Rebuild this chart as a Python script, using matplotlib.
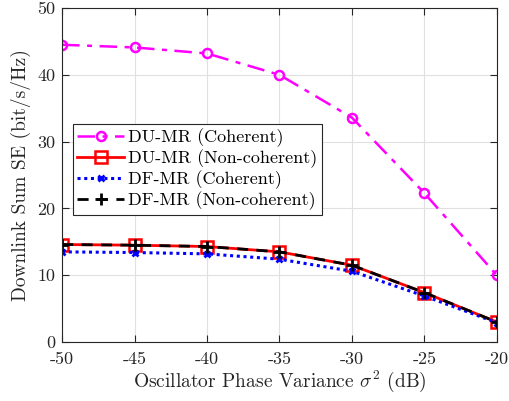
import matplotlib
matplotlib.use("Agg")
import matplotlib.pyplot as plt

plt.rcParams['font.family'] = 'cmr10'
plt.rcParams['mathtext.fontset'] = 'cm'
plt.rcParams['axes.unicode_minus'] = False
plt.rcParams['axes.formatter.use_mathtext'] = True

x = [-50, -45, -40, -35, -30, -25, -20]
du_coh = [44.5, 44.1, 43.2, 40.0, 33.6, 22.3, 10.0]
du_non = [14.6, 14.5, 14.3, 13.5, 11.5, 7.4, 3.0]
df_coh = [13.5, 13.4, 13.2, 12.4, 10.6, 6.9, 2.9]
df_non = [14.6, 14.5, 14.3, 13.5, 11.5, 7.4, 3.0]
xticks = [-50, -45, -40, -35, -30, -25, -20]
yticks = [0, 10, 20, 30, 40, 50]

fig = plt.figure(figsize=(5.09, 4.01), dpi=100)
ax = fig.add_axes([0.122, 0.147, 0.854, 0.833])

ax.plot(x, du_coh, color='#ff00ff', ls=(0, (7, 3, 2, 3)), lw=1.8, marker='o', ms=6.5, mfc='none', mew=1.8,
        label='DU-MR (Coherent)')
ax.plot(x, du_non, color='red', ls='-', lw=2, marker='s', ms=8.5, mfc='none', mew=1.8,
        label='DU-MR (Non-coherent)')
ax.plot(x, df_coh, color='blue', ls=(0, (1, 1.2)), lw=2.2, marker='x', ms=5, mew=2,
        label='DF-MR (Coherent)')
ax.plot(x, df_non, color='black', ls=(0, (4, 3)), lw=2, marker='+', ms=8, mew=2,
        label='DF-MR (Non-coherent)')

ax.set_xlim(-50, -20)
ax.set_ylim(0, 50)
ax.set_xticks(xticks)
ax.set_xticklabels([str(v) for v in xticks])
ax.set_yticks(yticks)
ax.set_yticklabels([str(v) for v in yticks])
ax.tick_params(direction='in', labelsize=13, length=5, width=0.8, colors='#262626', top=True, right=True)
ax.tick_params(axis='x', pad=7)
ax.tick_params(axis='y', pad=5)
ax.grid(True, color='#e0e0e0', lw=0.8)
ax.set_axisbelow(True)
for s in ax.spines.values():
    s.set_color('#262626')
    s.set_linewidth(0.8)

ax.set_xlabel(r'Oscillator Phase Variance $\sigma^2$ (dB)', fontsize=14, color='#262626', labelpad=1)
ax.set_ylabel('Downlink Sum SE (bit/s/Hz)', fontsize=14, color='#262626', labelpad=4)

leg = ax.legend(loc='upper left', bbox_to_anchor=(0.025, 0.652), fontsize=13, frameon=True,
                fancybox=False, edgecolor='#262626', framealpha=1, handlelength=2.6,
                handletextpad=0.2, borderpad=0.25, labelspacing=0.12, borderaxespad=0)
leg.get_frame().set_linewidth(0.8)

fig.savefig('out.png', dpi=100)
